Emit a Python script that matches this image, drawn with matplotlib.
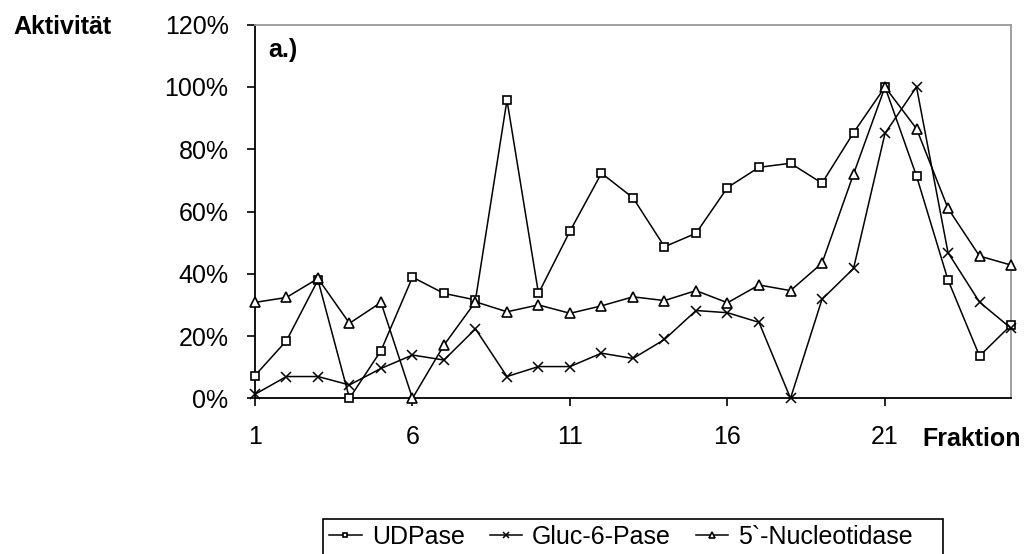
import matplotlib
matplotlib.use("Agg")
import matplotlib.pyplot as plt
from matplotlib.patches import Rectangle
from matplotlib.ticker import PercentFormatter

plt.rcParams['font.family'] = ['Liberation Sans', 'DejaVu Sans']

fraktion = list(range(1, 26))
udpase = [7.3, 18.5, 38.0, 0.0, 15.3, 38.9, 33.7, 31.6, 95.8, 33.7, 53.7, 72.3,
          64.4, 48.7, 53.0, 67.7, 74.2, 75.5, 69.1, 85.3, 100.0, 71.4, 38.0, 13.6, 23.5]
gluc6pase = [1.3, 7.0, 7.0, 4.3, 9.6, 13.9, 12.3, 22.3, 7.0, 10.2, 10.2, 14.5,
             12.8, 18.9, 28.2, 27.5, 24.4, 0.0, 31.8, 41.7, 85.1, 100.0, 46.8, 30.9, 22.5]
nucleotidase = [30.8, 32.4, 38.5, 24.1, 30.8, 0.0, 17.1, 31.0, 27.8, 30.0, 27.3, 29.7,
                32.6, 31.4, 34.6, 30.7, 36.4, 34.6, 43.4, 72.0, 100.0, 86.6, 61.0, 45.7, 42.8]
x_ticks = [1, 6, 11, 16, 21]
y_ticks = [0, 20, 40, 60, 80, 100, 120]

fig = plt.figure(figsize=(10.26, 5.54), dpi=100)
ax = fig.add_axes([0.2485, 0.281, 0.7369, 0.6744])

ax.plot(fraktion, udpase, color='black', lw=1.1, marker='s', ms=5.5,
        mfc='white', mec='black', mew=1.2, label='UDPase', clip_on=False, zorder=3)
ax.plot(fraktion, gluc6pase, color='black', lw=1.1, marker='x', ms=7,
        mew=1.1, label='Gluc-6-Pase', clip_on=False, zorder=3)
ax.plot(fraktion, nucleotidase, color='black', lw=1.1, marker='^', ms=6.5,
        mfc='white', mec='black', mew=1.2, label='5`-Nucleotidase', clip_on=False, zorder=3)

ax.set_xlim(1, 25)
ax.set_ylim(0, 120)
ax.set_xticks(x_ticks)
ax.set_yticks(y_ticks)
ax.yaxis.set_major_formatter(PercentFormatter(decimals=0))
ax.tick_params(axis='both', direction='out', length=6, width=1.2,
               labelsize=18, color='black')
ax.tick_params(axis='y', pad=13)
ax.tick_params(axis='x', pad=13)

for s in ['left', 'bottom']:
    ax.spines[s].set_color('black')
    ax.spines[s].set_linewidth(1.3)
for s in ['top', 'right']:
    ax.spines[s].set_color('#999999')
    ax.spines[s].set_linewidth(1.3)

fig.text(0.013, 0.951, 'Aktivität', fontsize=18, fontweight='bold', va='center')
ax.text(0.017, 0.932, 'a.)', transform=ax.transAxes, fontsize=18,
        fontweight='bold', va='center')
fig.text(0.947, 0.2076, 'Fraktion', fontsize=18, fontweight='bold',
         va='center', ha='center')

# legend box is wider than its entries in the original (excel style)
leg = fig.legend(loc='upper left', bbox_to_anchor=(0.3148, 0.0632), ncol=3,
                 fontsize=18, frameon=False,
                 handlelength=1.3, handletextpad=0.4, columnspacing=1.0,
                 borderpad=0.25, markerscale=0.6, borderaxespad=0)
fig.patches.append(Rectangle((0.3148, -0.02), 0.6043, 0.0832, transform=fig.transFigure,
                             fill=False, edgecolor='black', linewidth=1.2))

fig.savefig('out.png', dpi=100)
